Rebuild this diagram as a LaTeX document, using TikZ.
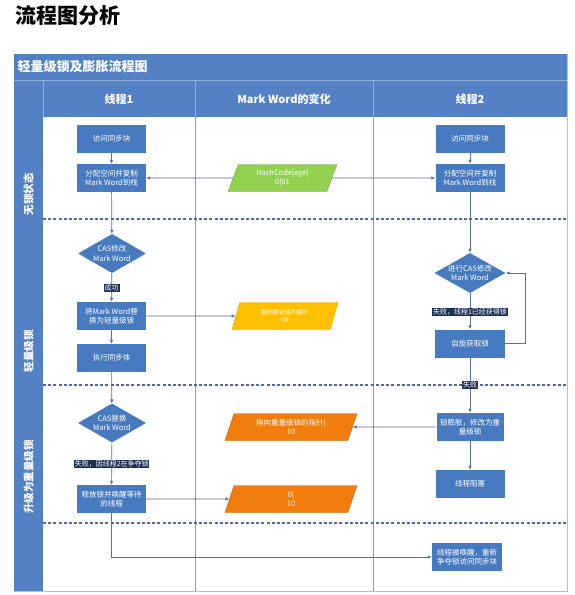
\documentclass[tikz,border=0pt]{standalone}
\usepackage{fontspec}
\newfontfamily\cjk{Noto Sans CJK SC}
\usetikzlibrary{arrows.meta,shapes.geometric}
\definecolor{boxblue}{RGB}{72,122,192}
\definecolor{bandblue}{RGB}{83,129,196}
\definecolor{sepblue}{RGB}{140,175,222}
\definecolor{lineblue}{RGB}{85,112,165}
\definecolor{dashblue}{RGB}{80,105,160}
\definecolor{navy}{RGB}{28,48,88}
\definecolor{pgreen}{RGB}{146,208,80}
\definecolor{pyellow}{RGB}{255,192,0}
\definecolor{porange}{RGB}{240,125,12}
\tikzset{
 box/.style={fill=boxblue, text=white, minimum width=69pt, minimum height=28pt, inner sep=1pt, align=center, font=\cjk\fontsize{7.5}{9.5}\selectfont},
 diam/.style={diamond, fill=boxblue, minimum width=68pt, minimum height=39pt, inner sep=0pt},
 dtext/.style={text=white, align=center, inner sep=0pt, font=\cjk\fontsize{7.5}{9.5}\selectfont},
 para/.style={trapezium, trapezium left angle=63, trapezium right angle=117, trapezium stretches body=true, minimum height=27pt, text=white, align=center, inner sep=1pt, font=\cjk\fontsize{7.5}{9.5}\selectfont},
 lab/.style={fill=navy, text=white, inner sep=0.8pt, font=\cjk\fontsize{7}{8}\selectfont},
 arr/.style={draw=lineblue, line width=0.7pt, -{Latex[length=4pt,width=3.5pt]}},
 lane/.style={rotate=90, text=white, font=\cjk\bfseries\fontsize{10.5}{12}\selectfont},
 colhead/.style={text=white, font=\cjk\bfseries\fontsize{11}{13}\selectfont},
 lanedash/.style={draw=dashblue, line width=1.4pt, dash pattern=on 3pt off 2.2pt},
}
\begin{document}
\begin{tikzpicture}[x=1pt,y=-1pt]
\useasboundingbox (0,0) rectangle (574,595);
% title
\node[anchor=west, font=\cjk\bfseries\fontsize{21}{24}\selectfont] (title) at (12,16) {流程图分析};
% frame
\fill[white] (14,54) rectangle (567,591);
\fill[bandblue] (14,54) rectangle (567,117);
\fill[bandblue] (14,117) rectangle (43,591);
\draw[sepblue, line width=0.8pt] (14,80.5) -- (567,80.5);
\draw[sepblue, line width=0.8pt] (43,81) -- (43,117);
\draw[sepblue, line width=0.8pt] (195,81) -- (195,117);
\draw[sepblue, line width=0.8pt] (373,81) -- (373,117);
\draw[lineblue!70, line width=0.6pt] (195,117) -- (195,591);
\draw[lineblue!70, line width=0.6pt] (373,117) -- (373,591);
\draw[black!25, line width=0.6pt] (567,54) -- (567,591) -- (14,591);
\draw[lanedash] (43,219) -- (567,219);
\draw[lanedash] (43,385) -- (567,385);
\draw[lanedash] (43,523) -- (567,523);
% headers
\node[anchor=west, text=white, font=\cjk\bfseries\fontsize{13}{15}\selectfont] (band) at (14,67) {轻量级锁及膨胀流程图};
\node[colhead] (h1) at (119,99) {线程1};
\node[colhead] (h2) at (284,99) {Mark Word的变化};
\node[colhead] (h3) at (470,99) {线程2};
\node[lane] (l1) at (28.5,194) {无锁状态};
\node[lane] (l2) at (28.5,351) {轻量级锁};
\node[lane] (l3) at (28.5,477) {升级为重量级锁};
% thread 1
\node[box] (b11) at (111.5,138.5) {访问同步块};
\node[box] (b12) at (111.5,178) {分配空间并复制\\Mark Word到栈};
\node[diam] (d1) at (112,253.5) {};
\node[dtext] (d1t) at (d1) {CAS修改\\Mark Word};
\node[box] (b13) at (111.5,316) {将Mark Word替\\换为轻量级锁};
\node[box] (b14) at (111.5,358) {执行同步体};
\node[diam] (d2) at (112,423) {};
\node[dtext] (d2t) at (d2) {CAS替换\\Mark Word};
\node[box] (b15) at (111.5,499) {释放锁并唤醒等待\\的线程};
% mark word
\node[para, minimum width=109pt, fill=pgreen, draw=pgreen!85!black, line width=0.4pt] (hash) at (282.5,178) {HashCode|age|\\0|01};
\node[para, minimum width=106pt, fill=pyellow, draw=pyellow!85!black, line width=0.4pt, font=\cjk\fontsize{6}{8}\selectfont] (yel) at (285,316) {指向锁记录的指针\\00};
\node[para, minimum width=132pt, fill=porange, draw=porange!80!black, line width=0.4pt] (or1) at (291,427) {指向重量级锁的指针|\\10};
\node[para, minimum width=132pt, fill=porange, draw=porange!80!black, line width=0.4pt] (or2) at (291,499) {0|\\10};
% thread 2
\node[box] (b21) at (470,139) {访问同步块};
\node[box] (b22) at (470,178) {分配空间并复制\\Mark Word到栈};
\node[diam, minimum width=71pt, minimum height=40pt] (d3) at (470,273) {};
\node[dtext] (d3t) at (d3) {进行CAS修改\\Mark Word};
\node[box, minimum width=70pt] (b23) at (470,343.5) {自旋获取锁};
\node[box, minimum width=67pt] (b24) at (470,427) {锁膨胀，修改为重\\量级锁};
\node[box] (b25) at (470,484) {线程阻塞};
\node[box, minimum width=70pt] (b5) at (467,557) {线程被唤醒，重新\\争夺锁访问同步块};
% connectors thread 1
\draw[arr] (b11) -- (b12);
\draw[arr] (b12) -- (d1);
\draw[arr] (d1) -- (b13) node[lab, pos=0.53] (s1) {成功};
\draw[arr] (b13) -- (b14);
\draw[arr] (b14) -- (d2);
\draw[arr] (d2) -- (b15) node[lab, pos=0.5] (f2) {失败，因线程2在争夺锁};
\draw[arr] (b15.south) -- (b15.south |- b5.west) -- (b5.west);
\draw[arr] (b13) -- (yel);
\draw[arr] (b15) -- (or2);
% mark word to threads
\draw[arr] (hash) -- (b12);
\draw[arr] (hash) -- (b22);
% thread 2
\draw[arr] (b21) -- (b22);
\draw[arr] (b22) -- (d3);
\draw[arr] (d3) -- (b23) node[lab, pos=0.53] (f1) {失败，线程1已经获得锁};
\draw[arr] (b23.east) -- ++(20,0) |- (d3.east);
\draw[arr] (b23) -- (b24) node[lab, pos=0.49] (f3) {失败};
\draw[arr] (b24) -- (b25);
\draw[arr] (b24) -- (or1);
\end{tikzpicture}
\end{document}
